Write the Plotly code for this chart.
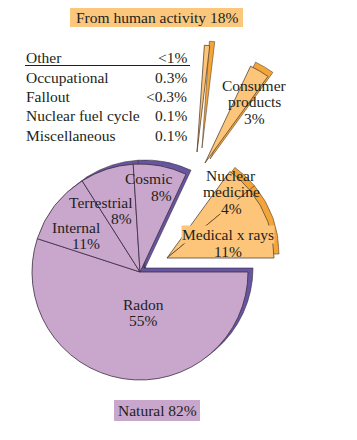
import plotly.graph_objects as go

# ---------------- data ----------------
natural_labels = ["Radon", "Internal", "Terrestrial", "Cosmic"]
natural_values = [55, 11, 8, 8]
natural_total = 82

human_labels = ["Medical x rays", "Nuclear medicine", "Consumer products"]
human_values = [11, 4, 3]
human_total = 18

other_labels = ["Occupational", "Fallout", "Nuclear fuel cycle", "Miscellaneous"]
other_values = [0.3, 0.3, 0.1, 0.1]
other_text = ["0.3%", "<0.3%", "0.1%", "0.1%"]
other_total_text = "<1%"

# ---------------- styling / layout ----------------
OX, OY = 8, 8            # page body margin of the browser
FW, FH = 357 - OX, 440 - OY
FONT = "Liberation Serif"
FS = 15.5
TXT = "#231f20"
LAV = "#c9a6cc"
PURPLE = "#66559f"
ORANGE = "#fcc57a"
ORANGE_DARK = "#f3a53a"
LAV_LINE = "#3b2e40"
OR_LINE = "#5b4531"
CLEAR = "rgba(0,0,0,0)"
DEPTH = (5, -4)   # pixel offset of the "3D" back face
DEG = 3.6          # degrees per percent


def X(x):
    return (x - OX) / FW


def Y(y):
    return 1 - (y - OY) / FH


fig = go.Figure()


def dom(cx, cy, r):
    return dict(x=[X(cx - r), X(cx + r)], y=[Y(cy + r), Y(cy - r)])


def add_pie(labels, values, colors, widths, rot, cx, cy, r, lc):
    fig.add_trace(go.Pie(
        labels=labels, values=values, sort=False, direction="clockwise",
        rotation=rot, textinfo="none", hoverinfo="label+value",
        marker=dict(colors=colors, line=dict(color=lc, width=widths)),
        domain=dom(cx, cy, r), showlegend=False))


def solid(cx, cy, r, labels, values, face, back, lc, rot):
    n = len(values)
    # back face (depth)
    add_pie(["_b_" + l for l in labels], values, [back] * (n - 1) + [CLEAR],
            [0.6] * (n - 1) + [0], rot, cx + DEPTH[0], cy + DEPTH[1], r, lc)
    # front face
    add_pie(labels, values, [face] * (n - 1) + [CLEAR],
            [0.8] * (n - 1) + [0], rot, cx, cy, r, lc)


# Natural pie (starts at 3 o'clock, clockwise)
solid(140, 272, 108, natural_labels + ["From human activity"],
      natural_values + [100 - natural_total], LAV, PURPLE, LAV_LINE, 90)

# "Other" sliver
other_sum = sum(other_values)
other_dir = 84.6
solid(197, 152, 107, ["Other", "rest_o"], [other_sum, 100 - other_sum],
      ORANGE, ORANGE_DARK, OR_LINE, 90 - (other_dir + other_sum * DEG / 2))

# Consumer products
solid(205, 163, 107, ["Consumer products", "rest_c"],
      [human_values[2], 100 - human_values[2]], ORANGE, ORANGE_DARK, OR_LINE,
      90 - human_total * DEG)

# Medical x rays + nuclear medicine
med_sum = human_values[0] + human_values[1]
solid(167, 258, 107, ["Nuclear medicine", "Medical x rays", "rest_m"],
      [human_values[1], human_values[0], 100 - med_sum], ORANGE, ORANGE_DARK,
      OR_LINE, 90 - med_sum * DEG)


# ---------------- text ----------------
def text_lines(lines, x, y, anchor, bg=CLEAR, lh=16):
    for i, t in enumerate(lines):
        fig.add_annotation(x=X(x), y=Y(y + i * lh), xref="paper", yref="paper",
                           text=t, showarrow=False, xanchor=anchor, yanchor="middle",
                           font=dict(family=FONT, size=FS, color=TXT),
                           bgcolor=bg, borderpad=0)


nat_pos = {"Radon": (143, 304, "center"), "Internal": (101, 227, "right"),
           "Terrestrial": (133, 202, "right"), "Cosmic": (173, 179, "right")}
for lab, v in zip(natural_labels, natural_values):
    x, y, a = nat_pos[lab]
    text_lines([lab, f"{v}%"], x, y, a)

text_lines(["Medical x rays"], 228, 234.5, "center", bg=ORANGE)
text_lines([f"{human_values[0]}%"], 228, 251, "center")
text_lines(["Nuclear", "medicine"], 231, 175, "center")
text_lines([f"{human_values[1]}%"], 231, 208, "center", bg=ORANGE)
text_lines(["Consumer", "products", f"{human_values[2]}%"], 254, 85.5, "center", lh=16.5)

# Other table
text_lines(["Other"], 25, 58, "left")
text_lines([other_total_text], 188, 58, "right")
for i, (lab, t) in enumerate(zip(other_labels, other_text)):
    text_lines([lab], 25, 77 + i * 19.4, "left")
    text_lines([t], 188, 77 + i * 19.4, "right")
fig.add_shape(type="line", xref="paper", yref="paper", x0=X(25), x1=X(190),
              y0=Y(65.5), y1=Y(65.5), line=dict(color=TXT, width=1))

# Group captions
fig.add_shape(type="rect", xref="paper", yref="paper", x0=X(70), x1=X(243),
              y0=Y(27), y1=Y(8), fillcolor="#fbc77c", line_width=0, layer="below")
text_lines([f"From human activity {human_total}%"], 156.5, 17.5, "center")
fig.add_shape(type="rect", xref="paper", yref="paper", x0=X(114), x1=X(200),
              y0=Y(421), y1=Y(400), fillcolor=LAV, line_width=0, layer="below")
text_lines([f"Natural {natural_total}%"], 157, 410.5, "center")

fig.update_layout(width=FW, height=FH, margin=dict(l=0, r=0, t=0, b=0),
                  paper_bgcolor="white", plot_bgcolor="white", showlegend=False)

fig.write_html("out.html")
